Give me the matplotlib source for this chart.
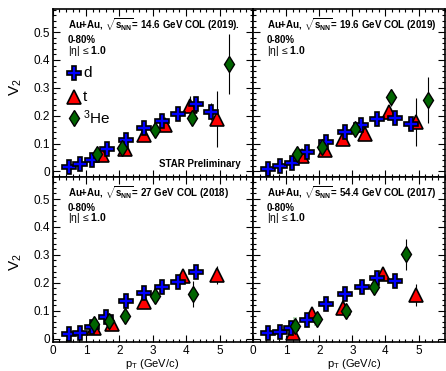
import numpy as np
import matplotlib
matplotlib.use("Agg")
import matplotlib.pyplot as plt
from matplotlib.ticker import MultipleLocator

plt.rcParams['font.family'] = ['Liberation Sans', 'DejaVu Sans']
plt.rcParams['mathtext.default'] = 'regular'
plt.rcParams['mathtext.fontset'] = 'custom'
plt.rcParams['mathtext.bf'] = 'Liberation Sans:bold'

# panel titles
titles = [r"Au+Au, $\sqrt{s_{NN}}$= 14.6 GeV COL (2019).",
          r"Au+Au, $\sqrt{s_{NN}}$= 19.6 GeV COL (2019)",
          r"Au+Au, $\sqrt{s_{NN}}$= 27 GeV COL (2018)",
          r"Au+Au, $\sqrt{s_{NN}}$= 54.4 GeV COL (2017)"]

# deuteron
d_pt = [[0.48, 0.83, 1.18, 1.63, 2.21, 2.75, 3.28, 3.76, 4.28, 4.75],
        [0.46, 0.81, 1.17, 1.64, 2.21, 2.77, 3.27, 3.74, 4.28, 4.78],
        [0.48, 0.83, 1.18, 1.61, 2.21, 2.75, 3.28, 3.76, 4.28],
        [0.46, 0.81, 1.16, 1.64, 2.22, 2.77, 3.29, 3.75, 4.28]]
d_v2 = [[0.016, 0.028, 0.042, 0.079, 0.114, 0.156, 0.180, 0.206, 0.242, 0.214],
        [0.010, 0.019, 0.031, 0.070, 0.106, 0.142, 0.166, 0.188, 0.192, 0.172],
        [0.017, 0.019, 0.043, 0.079, 0.136, 0.162, 0.186, 0.204, 0.237],
        [0.021, 0.023, 0.039, 0.067, 0.124, 0.159, 0.186, 0.218, 0.208]]
d_err = [[0, 0, 0, 0, 0, 0, 0, 0, 0, 0.03],
         [0, 0, 0, 0, 0, 0, 0, 0, 0, 0.01],
         [0, 0, 0, 0, 0, 0, 0, 0, 0],
         [0, 0, 0, 0, 0, 0, 0, 0, 0]]

# triton
t_pt = [[1.48, 2.18, 2.73, 3.36, 4.11, 4.91],
        [1.47, 2.19, 2.72, 3.37, 4.12, 4.92],
        [1.23, 1.78, 2.75, 3.91, 4.93],
        [1.21, 1.77, 2.72, 3.93, 4.92]]
t_v2 = [[0.058, 0.082, 0.130, 0.166, 0.234, 0.189],
        [0.054, 0.076, 0.118, 0.133, 0.212, 0.178],
        [0.037, 0.053, 0.130, 0.226, 0.228],
        [0.021, 0.087, 0.111, 0.230, 0.156]]
t_err = [[0, 0, 0, 0, 0.037, 0.10],
         [0, 0, 0, 0, 0.02, 0.085],
         [0, 0, 0, 0.015, 0.033],
         [0, 0, 0, 0.015, 0.04]]

# helium-3
he_pt = [[1.33, 2.08, 3.06, 4.16, 5.27],
         [1.34, 2.07, 3.07, 4.18, 5.28],
         [1.23, 1.68, 2.16, 3.06, 4.21],
         [1.27, 1.92, 2.82, 3.67, 4.62]]
he_v2 = [[0.061, 0.084, 0.148, 0.192, 0.385],
         [0.064, 0.088, 0.151, 0.266, 0.256],
         [0.051, 0.063, 0.081, 0.153, 0.160],
         [0.045, 0.069, 0.099, 0.186, 0.302]]
he_err = [[0.01, 0.01, 0.01, 0.022, 0.107],
          [0.01, 0.01, 0.01, 0.03, 0.083],
          [0.01, 0.01, 0.012, 0.012, 0.045],
          [0.01, 0.01, 0.012, 0.018, 0.055]]
he_sys = [[0, 0, 0, 0, 0],
          [0, 0, 0, 0, 0],
          [0, 0, 0, 0, 0],
          [0.032, 0.022, 0, 0, 0]]

fig = plt.figure(figsize=(4.46, 3.71), dpi=100)
W, H = 446.0, 371.0
xs = [(52.5, 253), (253, 445)]
ys = [(9, 177), (177, 342)]

for i in range(4):
    r, c = divmod(i, 2)
    x0, x1 = xs[c]
    y0, y1 = ys[r]
    ax = fig.add_axes([x0 / W, (H - y1) / H, (x1 - x0) / W, (y1 - y0) / H])
    ax.set_xlim(0, 6.0 if c == 0 else 5.8)
    ax.set_ylim(-0.02 if r == 0 else -0.012, 0.583 if r == 0 else 0.579)
    ax.set_xticks([0, 1, 2, 3, 4, 5])
    ax.set_yticks([0, 0.1, 0.2, 0.3, 0.4, 0.5])
    ax.set_yticklabels(['0', '0.1', '0.2', '0.3', '0.4', '0.5'])
    ax.xaxis.set_minor_locator(MultipleLocator(0.2))
    ax.yaxis.set_minor_locator(MultipleLocator(0.02))
    ax.tick_params(which='both', direction='in', top=True, right=True,
                   labelsize=8.5, pad=2, width=0.8, color='black')
    ax.tick_params(which='major', length=5)
    ax.tick_params(which='minor', length=2.5)
    for s in ax.spines.values():
        s.set_linewidth(1.2)
    if c == 1:
        ax.tick_params(labelleft=False)
    if r == 0:
        ax.tick_params(labelbottom=False)

    for x, y, s in zip(he_pt[i], he_v2[i], he_sys[i]):
        if s > 0:
            ax.add_patch(plt.Rectangle((x - 0.07, y - s), 0.14, 2 * s,
                                       facecolor='#9fcf9f', edgecolor='none', alpha=0.7, zorder=1))

    ax.errorbar(t_pt[i], t_v2[i], yerr=t_err[i], fmt='^', color='black', ecolor='black',
                elinewidth=0.8, capsize=0, ms=9.5, mfc='#ff0000', mec='black', mew=1.2, zorder=3)
    ax.errorbar(d_pt[i], d_v2[i], yerr=d_err[i], fmt='P', color='black', ecolor='black',
                elinewidth=0.8, capsize=0, ms=10, mfc='#0000ff', mec='black', mew=1.2, zorder=4)
    ax.errorbar(he_pt[i], he_v2[i], yerr=he_err[i], fmt='d', color='black', ecolor='black',
                elinewidth=0.8, capsize=0, ms=8, mfc='#006400', mec='black', mew=1.0, zorder=5)

    tx = 0.077 if c == 0 else 0.073
    ax.text(tx, 0.905, titles[i], transform=ax.transAxes, fontsize=7,
            fontweight='bold', va='center', ha='left')
    ax.text(tx, 0.815, "0-80%", transform=ax.transAxes, fontsize=7,
            fontweight='bold', va='center', ha='left')
    ax.text(tx, 0.75, r"|η| ≤ $\mathbf{1.0}$", transform=ax.transAxes, fontsize=7.5,
            va='center', ha='left')

    if i == 0:
        ax.plot([0.107], [0.619], 'P', transform=ax.transAxes, ms=10,
                mfc='#0000ff', mec='black', mew=1.2, clip_on=False)
        ax.plot([0.107], [0.476], '^', transform=ax.transAxes, ms=9.5,
                mfc='#ff0000', mec='black', mew=1.2, clip_on=False)
        ax.plot([0.107], [0.351], 'd', transform=ax.transAxes, ms=8,
                mfc='#006400', mec='black', mew=1.0, clip_on=False)
        ax.text(0.152, 0.619, "d", transform=ax.transAxes, fontsize=11, va='center')
        ax.text(0.152, 0.476, "t", transform=ax.transAxes, fontsize=11, va='center')
        ax.text(0.152, 0.351, r"$^3$He", transform=ax.transAxes, fontsize=11, va='center')
        ax.text(0.94, 0.077, "STAR Preliminary", transform=ax.transAxes, fontsize=7,
                fontweight='bold', ha='right', va='center')

# axis titles
for yc in (87, 262):
    fig.text(16 / W, 1 - yc / H, r"V$_2$", rotation=90, fontsize=11,
             ha='center', va='center')
for xc in (152, 354):
    fig.text(xc / W, 1 - 364 / H, r"p$_T$ (GeV/c)", fontsize=8,
             ha='center', va='center')

fig.savefig("out.png", dpi=100)
